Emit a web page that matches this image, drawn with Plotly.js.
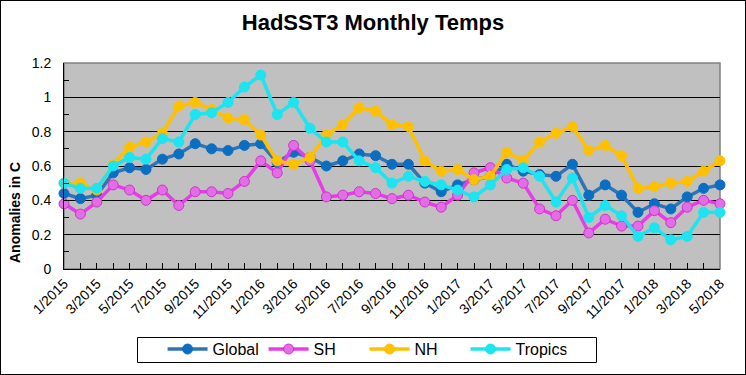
<!DOCTYPE html>
<html>
<head>
<meta charset="utf-8">
<script src="https://cdn.plot.ly/plotly-3.0.1.min.js"></script>
<style>
  html, body { margin: 0; padding: 0; background: #fff; }
  #chart { width: 744px; height: 373px; border: 1px solid #000; }
</style>
</head>
<body>
<div id="chart"></div>
<script>
// Months Jan 2015 .. May 2018
const months = [
  "1/2015","2/2015","3/2015","4/2015","5/2015","6/2015","7/2015","8/2015","9/2015","10/2015","11/2015","12/2015",
  "1/2016","2/2016","3/2016","4/2016","5/2016","6/2016","7/2016","8/2016","9/2016","10/2016","11/2016","12/2016",
  "1/2017","2/2017","3/2017","4/2017","5/2017","6/2017","7/2017","8/2017","9/2017","10/2017","11/2017","12/2017",
  "1/2018","2/2018","3/2018","4/2018","5/2018"
];
const tickLabels = ["1/2015","3/2015","5/2015","7/2015","9/2015","11/2015","1/2016","3/2016","5/2016","7/2016","9/2016","11/2016",
  "1/2017","3/2017","5/2017","7/2017","9/2017","11/2017","1/2018","3/2018","5/2018"];

const globalVals = [0.44,0.41,0.43,0.56,0.59,0.58,0.64,0.67,0.73,0.70,0.69,0.72,
  0.73,0.62,0.68,0.65,0.60,0.63,0.67,0.66,0.61,0.61,0.50,0.45,
  0.49,0.52,0.54,0.61,0.57,0.55,0.54,0.61,0.43,0.49,0.43,0.33,
  0.38,0.35,0.42,0.47,0.49];
const shVals = [0.38,0.32,0.39,0.49,0.46,0.40,0.46,0.37,0.45,0.45,0.44,0.51,
  0.63,0.56,0.72,0.63,0.42,0.43,0.45,0.44,0.41,0.43,0.39,0.36,
  0.43,0.56,0.59,0.53,0.50,0.35,0.31,0.40,0.21,0.29,0.25,0.25,
  0.34,0.27,0.36,0.40,0.38];
const nhVals = [0.50,0.50,0.46,0.61,0.71,0.74,0.79,0.95,0.97,0.93,0.88,0.87,
  0.78,0.63,0.61,0.65,0.78,0.84,0.94,0.92,0.84,0.83,0.63,0.57,
  0.58,0.52,0.54,0.68,0.63,0.74,0.79,0.83,0.69,0.72,0.66,0.47,
  0.48,0.50,0.51,0.57,0.63];
const tropicsVals = [0.50,0.47,0.47,0.60,0.65,0.64,0.76,0.74,0.90,0.91,0.97,1.06,
  1.13,0.90,0.97,0.82,0.74,0.74,0.63,0.59,0.50,0.54,0.51,0.49,
  0.46,0.42,0.49,0.58,0.59,0.54,0.39,0.53,0.30,0.37,0.31,0.19,
  0.24,0.17,0.19,0.33,0.33];

const tickText = months.map(m => tickLabels.includes(m) ? m : "");

function series(name, y, lineColor, markerColor, edgeColor) {
  return {
    type: "scatter", mode: "lines+markers", name: name,
    x: months, y: y, cliponaxis: false,
    line: { color: lineColor, width: 3.5 },
    marker: { color: markerColor, size: 10, line: { color: edgeColor, width: 1 } }
  };
}

const traces = [
  series("Global", globalVals, "#2E75B6", "#0A6EC2", "#0A6EC2"),
  series("SH", shVals, "#E83CE8", "#E46CE6", "#C838C8"),
  series("NH", nhVals, "#FFC000", "#FFC000", "#FFC000"),
  series("Tropics", tropicsVals, "#1CE4F0", "#1CE4F0", "#1CE4F0")
];

const font = "Liberation Sans, Arial, sans-serif";

// plot area in div pixels: x 63..719, y 62..268
const W = 744, H = 373, L = 63, R = 25, T = 62, B = 105;
const pw = W - L - R, ph = H - T - B;
const px = x => (x - 1 - L) / pw;          // reference pixel -> paper x
const py = y => (H - B - (y - 1)) / ph;    // reference pixel -> paper y

const layout = {
  width: W, height: H,
  margin: { l: L, r: R, t: T, b: B, pad: 0 },
  paper_bgcolor: "#ffffff",
  plot_bgcolor: "#C0C0C0",
  font: { family: font, size: 13, color: "#000" },
  title: {
    text: "HadSST3 Monthly Temps",
    font: { family: font, size: 22, weight: "bold", color: "#000" },
    x: 0.5, xref: "container", xanchor: "center",
    y: 0.942, yref: "container", yanchor: "middle"
  },
  xaxis: {
    type: "category",
    range: [0, 40],
    tickmode: "array", tickvals: months, ticktext: tickText,
    tickangle: -45,
    ticks: "inside", ticklen: 6, tickcolor: "#000", tickwidth: 1,
    showline: true, linecolor: "#000", linewidth: 1,
    showgrid: false, zeroline: false,
    tickfont: { family: font, size: 14, color: "#000" },
    fixedrange: true
  },
  yaxis: {
    range: [0, 1.2],
    tickmode: "array",
    tickvals: [0, 0.2, 0.4, 0.6, 0.8, 1.0, 1.2],
    ticktext: ["0", "0.2", "0.4", "0.6", "0.8", "1", "1.2"],
    ticks: "inside", ticklen: 5, tickcolor: "#000",
    minor: { tickvals: [0.1, 0.3, 0.5, 0.7, 0.9, 1.1], ticks: "inside", ticklen: 5, tickcolor: "#000", showgrid: false },
    showline: true, linecolor: "#000", linewidth: 1,
    showgrid: true, gridcolor: "#000", gridwidth: 1,
    zeroline: false,
    ticklabelstandoff: 9,
    tickfont: { family: font, size: 14, color: "#000" },
    fixedrange: true
  },
  annotations: [{
    text: "Anomalies in C", textangle: -90,
    xref: "paper", yref: "paper", x: px(15), y: py(213),
    xanchor: "center", yanchor: "middle", showarrow: false,
    font: { family: font, size: 14, weight: "bold", color: "#000" }
  }],
  shapes: [
    { type: "rect", xref: "paper", yref: "paper", x0: 0, x1: 1, y0: 0, y1: 1,
      line: { color: "#808080", width: 1.5 }, fillcolor: "rgba(0,0,0,0)", layer: "below" },
    { type: "rect", xref: "paper", yref: "paper", x0: px(137.5), x1: px(596.5), y0: py(337.5), y1: py(362.5),
      line: { color: "#000", width: 1 }, fillcolor: "#ffffff", layer: "above" }
  ],
  showlegend: true,
  legend: {
    orientation: "h",
    xref: "container", yref: "container",
    x: 162 / 746, xanchor: "left",
    y: 1 - 350 / 375, yanchor: "middle",
    bgcolor: "rgba(0,0,0,0)", borderwidth: 0,
    font: { family: font, size: 16, color: "#000" },
    entrywidth: 46, itemwidth: 40
  }
};

Plotly.newPlot("chart", traces, layout, { displayModeBar: false, staticPlot: true });
</script>
</body>
</html>
